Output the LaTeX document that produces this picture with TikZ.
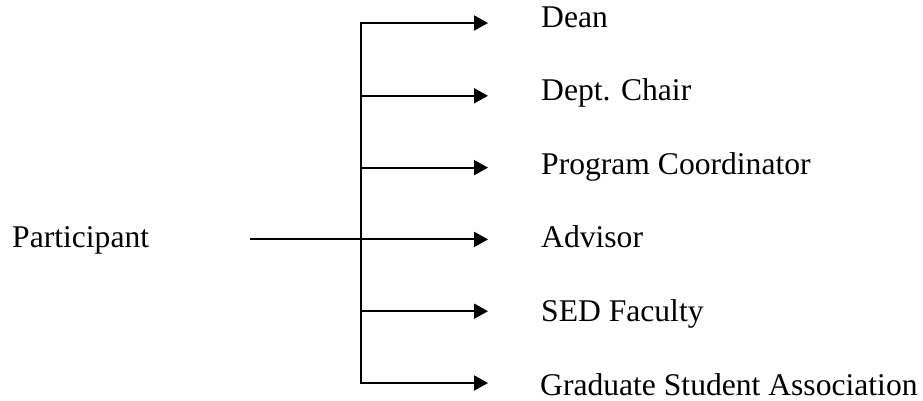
\documentclass[tikz,border=0pt]{standalone}
\usepackage{fontspec}
\setmainfont{Liberation Serif}
\usetikzlibrary{arrows.meta}
\tikzset{
  lbl/.style={anchor=base west, inner sep=0pt, font=\fontsize{31.6}{38}\selectfont},
  conn/.style={line width=2pt},
  arr/.style={conn, -{Triangle[length=14pt,width=15pt]}},
}
\begin{document}
\begin{tikzpicture}[x=1pt,y=-1pt]
\useasboundingbox (0,0) rectangle (923,400);
% labels
\node[lbl] (part) at (12,247.5) {Participant};
\node[lbl] (dean) at (541,27) {Dean};
\node[lbl] (chair) at (541,100.6) {Dept. Chair};
\node[lbl] (coord) at (541,174.2) {Program Coordinator};
\node[lbl] (adv) at (541,247.8) {Advisor};
\node[lbl] (sed) at (541,321.4) {SED Faculty};
\node[lbl] (gsa) at (540,395) {Graduate Student Association};
% branch points on trunk
\coordinate (b1) at (361,23);
\coordinate (b2) at (361,95.8);
\coordinate (b3) at (361,167.6);
\coordinate (b4) at (361,239.4);
\coordinate (b5) at (361,311.2);
\coordinate (b6) at (361,383);
\coordinate (pstart) at (250,239.4);
% arrow tips
\coordinate (t1) at (488,23);
\coordinate (t2) at (488,95.8);
\coordinate (t3) at (488,167.6);
\coordinate (t4) at (488,239.4);
\coordinate (t5) at (488,311.2);
\coordinate (t6) at (488,383);
% trunk
\draw[conn, line cap=rect] (b1) -- (b6);
% branches
\draw[arr] ([xshift=-1pt]b1) -- (t1);
\draw[arr] (b2) -- (t2);
\draw[arr] (b3) -- (t3);
\draw[arr] (pstart) -- (t4);
\draw[arr] (b5) -- (t5);
\draw[arr] ([xshift=-1pt]b6) -- (t6);
\end{tikzpicture}
\end{document}
